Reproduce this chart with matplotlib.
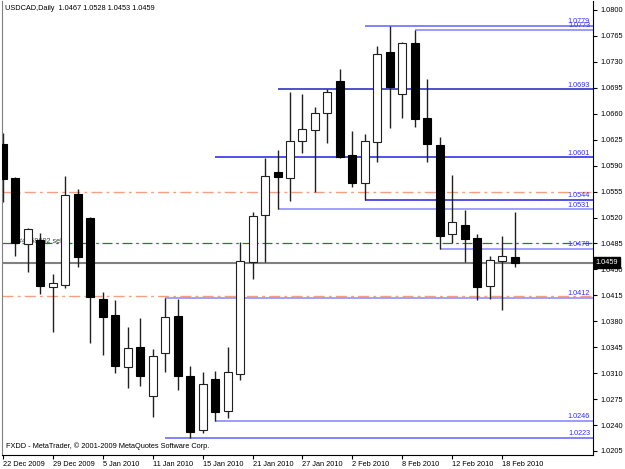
import numpy as np
import matplotlib
matplotlib.use("Agg")
from matplotlib import pyplot as plt

# daily USDCAD bars
opens  = [1.0619, 1.0573, 1.0484, 1.0490, 1.0426, 1.0429, 1.0552, 1.0519, 1.0410, 1.0389,
          1.0318, 1.0345, 1.0279, 1.0337, 1.0387, 1.0306, 1.0233, 1.0302, 1.0259, 1.0309,
          1.0460, 1.0523, 1.0581, 1.0573, 1.0623, 1.0638, 1.0661, 1.0704, 1.0604, 1.0567,
          1.0622, 1.0743, 1.0687, 1.0755, 1.0654, 1.0618, 1.0498, 1.0510, 1.0492, 1.0428,
          1.0461, 1.0467]
highs  = [1.0634, 1.0575, 1.0506, 1.0499, 1.0444, 1.0576, 1.0559, 1.0521, 1.0420, 1.0409,
          1.0372, 1.0384, 1.0343, 1.0412, 1.0410, 1.0320, 1.0312, 1.0313, 1.0345, 1.0487,
          1.0527, 1.0600, 1.0611, 1.0689, 1.0687, 1.0669, 1.0693, 1.0720, 1.0637, 1.0633,
          1.0751, 1.0779, 1.0757, 1.0773, 1.0707, 1.0629, 1.0577, 1.0530, 1.0498, 1.0468,
          1.0495, 1.0528]
lows   = [1.0541, 1.0468, 1.0447, 1.0417, 1.0366, 1.0425, 1.0453, 1.0351, 1.0335, 1.0310,
          1.0290, 1.0293, 1.0251, 1.0312, 1.0287, 1.0223, 1.0229, 1.0246, 1.0250, 1.0301,
          1.0437, 1.0460, 1.0531, 1.0542, 1.0607, 1.0554, 1.0621, 1.0600, 1.0561, 1.0544,
          1.0595, 1.0641, 1.0654, 1.0642, 1.0595, 1.0478, 1.0486, 1.0460, 1.0409, 1.0410,
          1.0395, 1.0453]
closes = [1.0572, 1.0486, 1.0505, 1.0428, 1.0432, 1.0550, 1.0467, 1.0413, 1.0386, 1.0320,
          1.0344, 1.0306, 1.0333, 1.0386, 1.0306, 1.0231, 1.0295, 1.0258, 1.0312, 1.0461,
          1.0522, 1.0576, 1.0575, 1.0623, 1.0639, 1.0661, 1.0689, 1.0602, 1.0567, 1.0623,
          1.0741, 1.0696, 1.0755, 1.0653, 1.0619, 1.0495, 1.0514, 1.0491, 1.0426, 1.0463,
          1.0468, 1.0459]

date_labels = ["22 Dec 2009", "29 Dec 2009", "5 Jan 2010", "11 Jan 2010", "15 Jan 2010",
               "21 Jan 2010", "27 Jan 2010", "2 Feb 2010", "8 Feb 2010", "12 Feb 2010",
               "18 Feb 2010"]

# support / resistance levels: price, starting bar
level_prices = [1.0779, 1.0773, 1.0693, 1.0601, 1.0544, 1.0531, 1.0478, 1.0412, 1.0246, 1.0223]
level_starts = [29, 33, 22, 17, 29, 22, 35, 13, 17, 13]
level_colors = ["#6060ff", "#8080ff", "#2020c0", "#2020e0", "#2020e0",
                "#8888ff", "#8888ff", "#8888ff", "#8080ff", "#6060ff"]

orange_levels = [1.0555, 1.0414]
green_level = 1.0486
last_price = 1.0459

fig = plt.figure(figsize=(6.25, 4.69), dpi=100)
ax = fig.add_axes([2 / 625, 14 / 469, 591 / 625, 454 / 469])

x = np.arange(len(opens))
o = np.array(opens)
c = np.array(closes)
up = c >= o

# level lines (behind candles)
for p in orange_levels:
    ax.axhline(p, color="#f4a080", lw=1, dashes=(8, 3, 2, 3), zorder=1)
ax.axhline(green_level, color="#208020", lw=0.9, dashes=(8, 3, 2, 3), zorder=1)
ax.axhline(last_price, color="#808080", lw=1.5, zorder=1)

for p, s, col in zip(level_prices, level_starts, level_colors):
    ax.hlines(p, s, 47.3, color=col, lw=1.1, zorder=1)
    ax.text(47.05, p + 0.00008, "%.4f" % p, color="#3030ff", fontsize=5.2,
            family="Liberation Sans", ha="right", va="bottom", zorder=5)

ax.text(1.2, 1.0483, "#4858602 sell", fontsize=5.2, color="#404040",
        family="Liberation Sans", va="bottom", zorder=1)

# candles
ax.vlines(x, lows, highs, color="#202020", lw=1, zorder=2)
ax.bar(x[~up], (o - c)[~up], bottom=c[~up], width=0.64, color="black",
       edgecolor="black", lw=0.8, zorder=3)
ax.bar(x[up], np.maximum((c - o)[up], 0.00004), bottom=o[up], width=0.64, color="white",
       edgecolor="#202020", lw=0.8, zorder=3)

ax.set_xlim(-0.08, 47.28)
ax.set_ylim(1.01996, 1.08121)

yt = 1.0800 - 0.0035 * np.arange(18)
ax.yaxis.tick_right()
ax.set_yticks(yt)
ax.set_yticklabels(["%.4f" % v for v in yt], fontsize=5.3, family="Liberation Sans")
ax.tick_params(axis="y", direction="out", length=3, pad=2, width=0.8)

ax.set_xticks(np.arange(0, 41, 4))
ax.set_xticklabels(date_labels, fontsize=5.3, family="Liberation Sans", ha="left")
ax.tick_params(axis="x", direction="out", length=3, pad=1.5, width=0.8)
for lab in ax.get_xticklabels():
    lab.set_x(0)

ax.spines["top"].set_visible(False)
ax.spines["left"].set_color("#808080")
ax.spines["right"].set_color("black")
ax.spines["bottom"].set_color("black")

# current price tag on axis
ax.annotate("%.4f" % last_price, xy=(1.0, last_price), xycoords=("axes fraction", "data"),
            xytext=(2, 0), textcoords="offset points", fontsize=5.3,
            family="Liberation Sans", color="white", va="center", ha="left",
            bbox=dict(boxstyle="square,pad=0.25", fc="black", ec="black"),
            annotation_clip=False, zorder=6)

fig.text(5 / 625, 1 - 8 / 469, "USDCAD,Daily  1.0467 1.0528 1.0453 1.0459",
         fontsize=5.3, family="Liberation Sans", va="center")
ax.text(0.006, 0.012, "FXDD - MetaTrader, \u00a9 2001-2009 MetaQuotes Software Corp.",
        transform=ax.transAxes, fontsize=5.3, family="Liberation Sans", va="bottom")

fig.savefig("out.png", dpi=100)
